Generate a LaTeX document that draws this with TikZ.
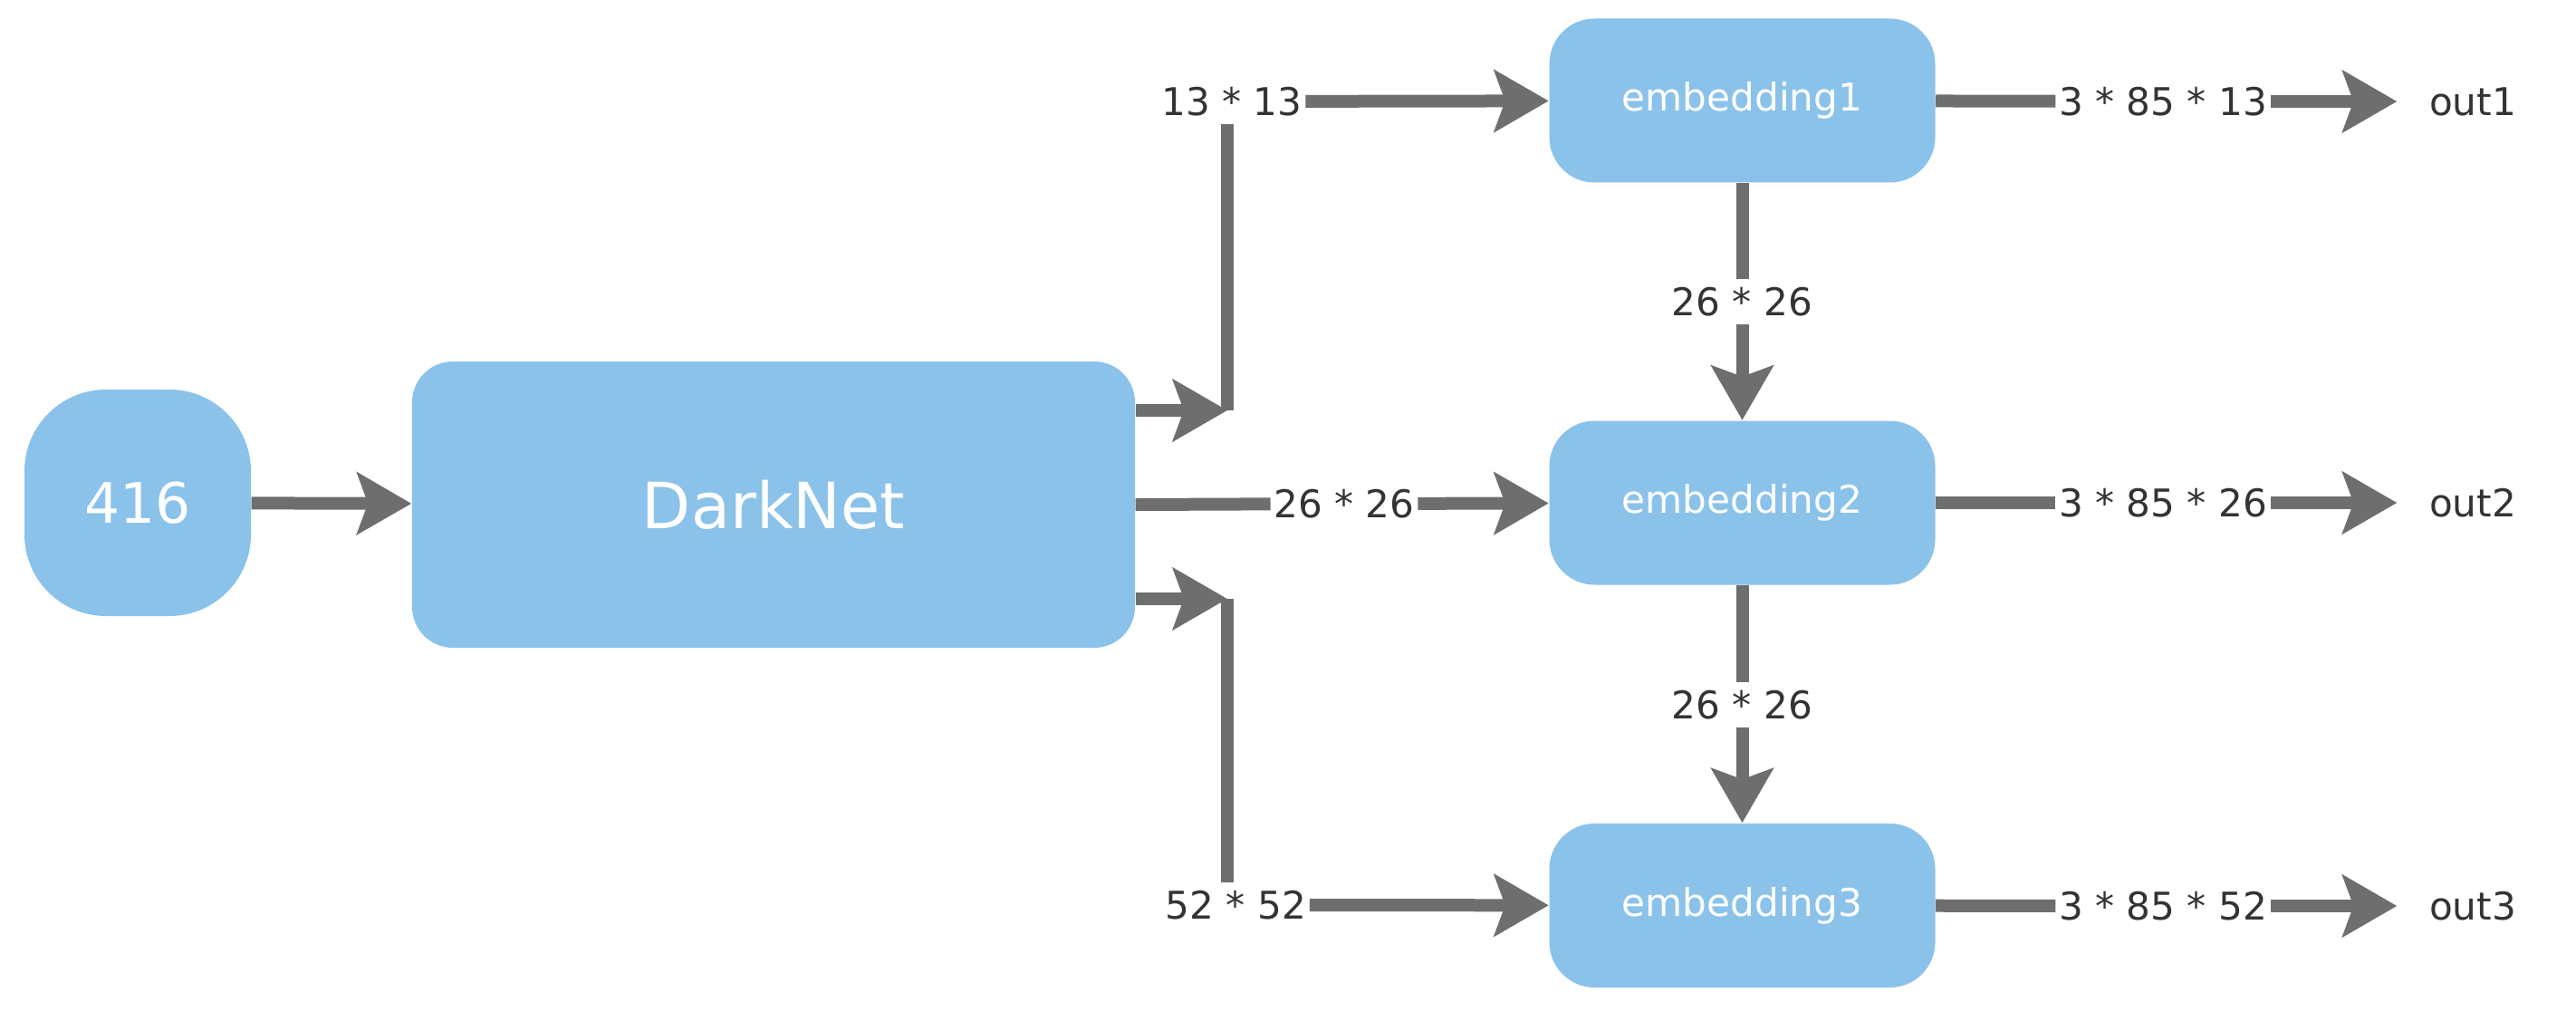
\documentclass[tikz,border=0pt]{standalone}
\usepackage{fontspec}
\setmainfont{DejaVu Sans}
\usetikzlibrary{arrows.meta}
\definecolor{boxblue}{HTML}{8AC2EA}
\definecolor{linegray}{HTML}{6E6E6E}
\definecolor{txtdark}{HTML}{333333}
\begin{document}
\begin{tikzpicture}[box/.style = {fill=boxblue, text=white, rounded corners=5mm, minimum width=4.26cm, minimum height=1.81cm, font=\fontsize{12}{14}\selectfont},
  lbl/.style = {text=txtdark, inner xsep=0.3mm, inner ysep=0.8mm, font=\fontsize{12}{14}\selectfont},
  outlbl/.style = {lbl, inner xsep=3.5mm},
  ln/.style = {draw=linegray, line width=1.4mm},
  arr/.style = {ln, -{Stealth[length=6mm, width=6.8mm, inset=1.2mm]}}]
        \useasboundingbox (0,0) rectangle (28.44,-11.26);
        \node[box, minimum width=2.5cm, minimum height=2.5cm, rounded corners=9mm, font=\fontsize{17.5}{20}\selectfont] (inp) at (1.52,-5.55) {416};
        \node[box, minimum width=7.98cm, minimum height=3.16cm, rounded corners=4.5mm, font=\fontsize{20}{24}\selectfont] (dark) at (8.54,-5.57) {DarkNet};
        \node[box] (emb1) at (19.235,-1.11) {embedding1};
        \node[box] (emb2) at (19.235,-5.55) {embedding2};
        \node[box] (emb3) at (19.235,-9.995) {embedding3};
        \node[lbl] (s13) at (13.60,-1.12) {13 * 13};
        \node[lbl] (s26) at (14.84,-5.56) {26 * 26};
        \node[lbl] (s52) at (13.645,-9.99) {52 * 52};
        \node[lbl] (d1) at (19.235,-3.33) {26 * 26};
        \node[lbl] (d2) at (19.235,-7.78) {26 * 26};
        \node[lbl] (o1) at (23.88,-1.12) {3 * 85 * 13};
        \node[lbl] (o2) at (23.88,-5.55) {3 * 85 * 26};
        \node[lbl] (o3) at (23.88,-10.0) {3 * 85 * 52};
        \node[outlbl] (out1) at (27.30,-1.12) {out1};
        \node[outlbl] (out2) at (27.30,-5.55) {out2};
        \node[outlbl] (out3) at (27.30,-10.0) {out3};
        \coordinate (j1) at (13.55,-4.53);
        \coordinate (j2) at (13.55,-6.61);
        \draw[arr] (inp) -- (dark);
        \draw[arr] (j1 -| dark.east) -- (j1);
        \draw[ln] (j1) -- (j1 |- s13.south);
        \draw[arr] (s13) -- (emb1);
        \draw[ln] (dark.east) -- (s26);
        \draw[arr] (s26) -- (emb2);
        \draw[arr] (j2 -| dark.east) -- (j2);
        \draw[ln] (j2) -- (j2 |- s52.north);
        \draw[arr] (s52) -- (emb3);
        \draw[ln] (emb1) -- (d1);
        \draw[arr] (d1) -- (emb2);
        \draw[ln] (emb2) -- (d2);
        \draw[arr] (d2) -- (emb3);
        \draw[ln] (emb1) -- (o1);
        \draw[arr] (o1) -- (out1);
        \draw[ln] (emb2) -- (o2);
        \draw[arr] (o2) -- (out2);
        \draw[ln] (emb3) -- (o3);
        \draw[arr] (o3) -- (out3);
    \end{tikzpicture}
\end{document}
